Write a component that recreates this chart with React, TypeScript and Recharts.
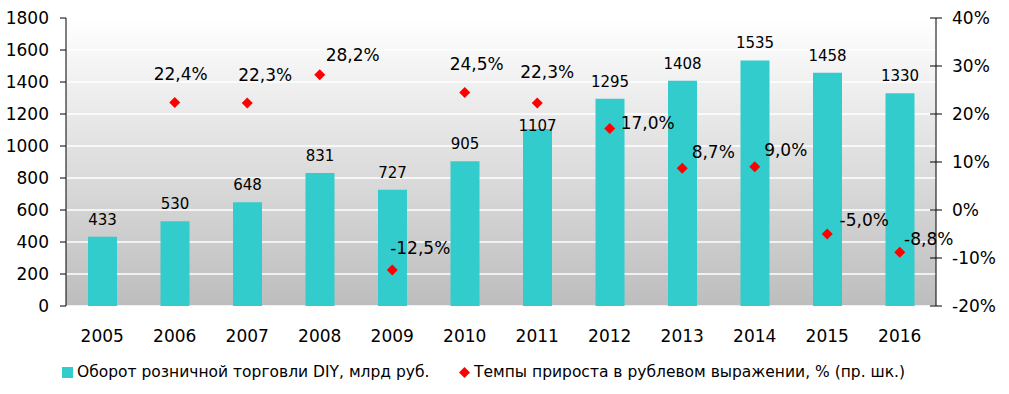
import * as React from "react"
import {
  ComposedChart,
  Bar,
  Line,
  XAxis,
  YAxis,
  CartesianGrid,
  Legend,
  LabelList,
} from "recharts"

const years = ["2005", "2006", "2007", "2008", "2009", "2010", "2011", "2012", "2013", "2014", "2015", "2016"]
const turnover = [433, 530, 648, 831, 727, 905, 1107, 1295, 1408, 1535, 1458, 1330]
const growth = [null, 22.4, 22.3, 28.2, -12.5, 24.5, 22.3, 17.0, 8.7, 9.0, -5.0, -8.8]
const leftTicks = [0, 200, 400, 600, 800, 1000, 1200, 1400, 1600, 1800]
const rightTicks = [-20, -10, 0, 10, 20, 30, 40]

const barName = "Оборот розничной торговли DIY, млрд руб."
const lineName = "Темпы прироста в рублевом выражении, % (пр. шк.)"

// manual label placement, like the hand-moved labels of the source chart
const pctShift: [number, number][] = [
  [0, 0], [6, -28], [18, -28], [33, -20], [28, -22], [12, -28],
  [10, -31], [38, -5], [31, -16], [31, -17], [37, -14], [29, -13],
]
const barShift = [-17, -17, -17, -17, -17, -17, -3, -17, -17, -17, -17, -17]

const FONT = "DejaVu Sans, Verdana, sans-serif"
const TEAL = "#33cccc"
const RED = "#ff0000"
const R_TICK = 6
const R_MARGIN = 10

const data = years.map((year, i) => ({ year, idx: i, turnover: turnover[i], growth: growth[i] }))
const edgeTicks = years.map((_, i) => i).concat(years.length)

const fmtPct = (v: number) => `${v.toFixed(1).replace(".", ",")}%`

function Diamond(props: any) {
  const { cx, cy, value } = props
  if (value == null || cx == null || cy == null) return <g />
  const r = 5.5
  return <path d={`M${cx},${cy - r}L${cx + r},${cy}L${cx},${cy + r}L${cx - r},${cy}Z`} fill={RED} />
}

function BarValue(props: any) {
  const { x, y, width, value, index } = props
  return (
    <text
      x={x + width / 2}
      y={y + barShift[index]}
      textAnchor="middle"
      dominantBaseline="central"
      fontSize={15}
      fontFamily={FONT}
      fill="#000"
    >
      {value}
    </text>
  )
}

function PctValue(props: any) {
  const { x, y, value, index } = props
  if (value == null) return null
  const [dx, dy] = pctShift[index]
  return (
    <text
      x={x + dx}
      y={y + dy}
      textAnchor="middle"
      dominantBaseline="central"
      fontSize={17}
      fontFamily={FONT}
      fill="#000"
    >
      {fmtPct(value)}
    </text>
  )
}

// right axis: ticks cross the axis line, as in the source
function RightTick(props: any) {
  const { x, y, payload } = props
  const axisX = x - R_TICK - R_MARGIN
  return (
    <g>
      <line x1={axisX - R_TICK} x2={axisX} y1={y} y2={y} stroke="#000" />
      <text x={x} y={y} dy="0.355em" textAnchor="start" fontSize={17} fontFamily={FONT} fill="#000">
        {`${payload.value}%`}
      </text>
    </g>
  )
}

function LegendBox() {
  const text: React.CSSProperties = { fontSize: 15.5, fontFamily: FONT, color: "#000", lineHeight: "16px", whiteSpace: "nowrap" }
  return (
    <div style={{ position: "relative", width: 1009, height: 38 }}>
      <div style={{ position: "absolute", left: 62, top: 8, display: "flex", alignItems: "center" }}>
        <span style={{ width: 11, height: 11, background: TEAL, marginRight: 4 }} />
        <span style={text}>{barName}</span>
      </div>
      <div style={{ position: "absolute", left: 459, top: 8, display: "flex", alignItems: "center" }}>
        <svg width={11} height={11} style={{ marginRight: 4 }}>
          <path d="M5.5,0L11,5.5L5.5,11L0,5.5Z" fill={RED} />
        </svg>
        <span style={text}>{lineName}</span>
      </div>
    </div>
  )
}

export default function App() {
  const tickStyle = { fontSize: 17, fill: "#000", fontFamily: FONT }
  return (
    <div style={{ position: "absolute", left: 0, top: 0, background: "#fff" }}>
      <ComposedChart
        width={1009}
        height={394}
        data={data}
        margin={{ top: 18, right: 0, left: 0, bottom: 0 }}
        barCategoryGap={0}
      >
        <defs>
          <linearGradient id="plotBg" x1="0" y1="0" x2="0" y2="1">
            <stop offset="0%" stopColor="#ffffff" />
            <stop offset="100%" stopColor="#bdbdbd" />
          </linearGradient>
        </defs>
        <CartesianGrid
          xAxisId="cat"
          yAxisId="left"
          vertical={false}
          stroke="#ffffff"
          strokeWidth={1.5}
          fill="url(#plotBg)"
          fillOpacity={1}
        />
        <XAxis
          xAxisId="edges"
          type="number"
          domain={[0, years.length]}
          ticks={edgeTicks}
          tick={false}
          tickSize={7}
          height={0}
          axisLine={{ stroke: "#000" }}
          tickLine={{ stroke: "#000" }}
        />
        <XAxis
          xAxisId="cat"
          dataKey="year"
          height={50}
          tickSize={0}
          tickMargin={24}
          axisLine={false}
          tickLine={false}
          tick={tickStyle}
          interval={0}
        />
        <YAxis
          yAxisId="left"
          width={66}
          domain={[0, 1800]}
          ticks={leftTicks}
          tickSize={6}
          tickMargin={11}
          tick={tickStyle}
          axisLine={{ stroke: "#000" }}
          tickLine={{ stroke: "#000" }}
          interval={0}
        />
        <YAxis
          yAxisId="right"
          orientation="right"
          width={73}
          domain={[-20, 40]}
          ticks={rightTicks}
          tickSize={R_TICK}
          tickMargin={R_MARGIN}
          tick={RightTick}
          axisLine={{ stroke: "#000" }}
          tickLine={{ stroke: "#000" }}
          interval={0}
        />
        <Bar
          xAxisId="cat"
          yAxisId="left"
          dataKey="turnover"
          name={barName}
          fill={TEAL}
          barSize={29}
          isAnimationActive={false}
        >
          <LabelList dataKey="turnover" content={BarValue} />
        </Bar>
        <Line
          xAxisId="cat"
          yAxisId="right"
          dataKey="growth"
          name={lineName}
          stroke="none"
          dot={Diamond}
          activeDot={false}
          isAnimationActive={false}
        >
          <LabelList dataKey="growth" content={PctValue} />
        </Line>
        <Legend verticalAlign="bottom" content={LegendBox} wrapperStyle={{ left: 0, bottom: 0, width: 1009 }} />
      </ComposedChart>
    </div>
  )
}
